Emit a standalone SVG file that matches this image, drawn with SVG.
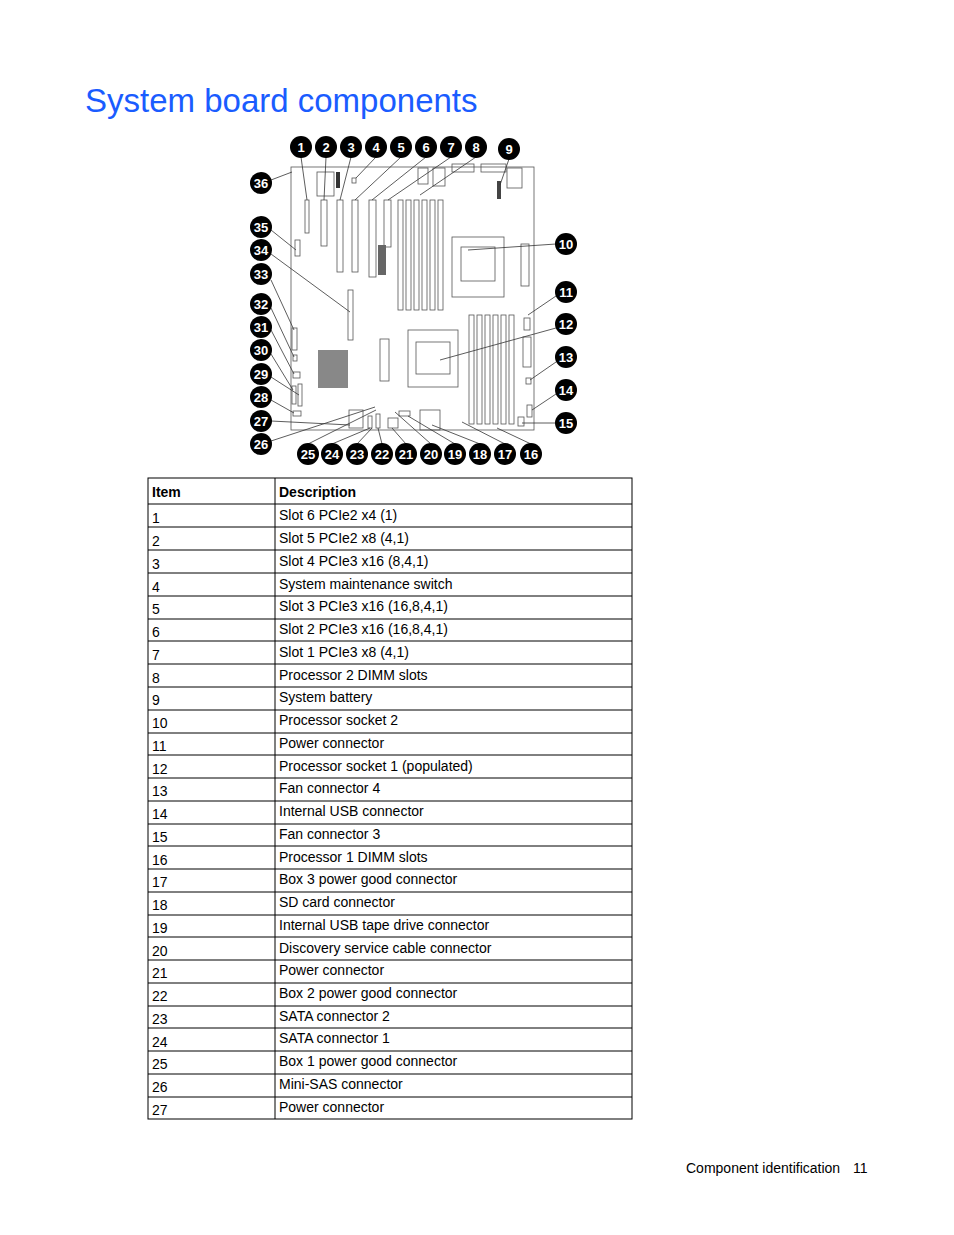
<svg xmlns="http://www.w3.org/2000/svg" width="954" height="1235" viewBox="0 0 954 1235">
<style>
.t{font-family:"Liberation Sans",Arial,sans-serif;font-size:14px;fill:#000}
.h{font-weight:bold}
.c circle{fill:#000;r:11px}
.c text{font-family:"Liberation Sans",Arial,sans-serif;font-size:13px;font-weight:bold;fill:#fff;text-anchor:middle}
.b{fill:none;stroke:#555;stroke-width:0.8}
.l{stroke:#333;stroke-width:0.8;fill:none}
.g line{stroke:#000;stroke-width:1}
</style>
<rect width="954" height="1235" fill="#fff"/>
<text x="85" y="112" style="font-family:'Liberation Sans',Arial,sans-serif;font-size:33px;fill:#1a5cff">System board components</text>
<g id="board">
<rect x="291" y="167" width="243" height="263" class="b"/>
<rect x="317" y="172" width="17" height="24" class="b"/>
<rect x="336" y="172" width="4" height="16" fill="#333"/>
<rect x="352" y="178" width="4" height="5" class="b"/>
<rect x="418" y="168" width="10" height="16" class="b"/><rect x="433" y="168" width="12" height="18" class="b"/>
<rect x="452" y="164" width="22" height="8" class="b"/><rect x="481" y="164" width="25" height="8" class="b"/>
<rect x="507" y="168" width="15" height="20" class="b"/>
<rect x="497" y="181" width="4" height="18" fill="#444"/>
<rect x="305" y="200" width="4" height="33" class="b"/>
<rect x="321" y="200" width="6" height="46" class="b"/>
<rect x="337" y="200" width="6" height="72" class="b"/>
<rect x="352" y="200" width="6" height="72" class="b"/>
<rect x="369" y="200" width="7" height="77" class="b"/>
<rect x="384" y="200" width="7" height="47" class="b"/>
<rect x="378" y="245" width="8" height="30" fill="#666"/>
<g class="b">
<rect x="398" y="200" width="5" height="110"/><rect x="406" y="200" width="5" height="110"/><rect x="414" y="200" width="5" height="110"/><rect x="422" y="200" width="5" height="110"/><rect x="430" y="200" width="5" height="110"/><rect x="438" y="200" width="5" height="110"/>
<rect x="469" y="315" width="5" height="109"/><rect x="477" y="315" width="5" height="109"/><rect x="485" y="315" width="5" height="109"/><rect x="493" y="315" width="5" height="109"/><rect x="501" y="315" width="5" height="109"/><rect x="509" y="315" width="5" height="109"/>
<rect x="452" y="237" width="52" height="60"/><rect x="461" y="247" width="34" height="34"/>
<rect x="408" y="330" width="50" height="57"/><rect x="416" y="342" width="34" height="32"/>
<rect x="521" y="244" width="8" height="42"/><rect x="523" y="337" width="8" height="30"/>
<rect x="380" y="339" width="9" height="42"/>
<rect x="348" y="290" width="5" height="50"/>
<rect x="295" y="240" width="5" height="16"/>
<rect x="292" y="328" width="5" height="22"/>
<rect x="293" y="355" width="4" height="6"/><rect x="293" y="372" width="7" height="6"/>
<rect x="292" y="386" width="4" height="18"/><rect x="298" y="384" width="4" height="22"/>
<rect x="293" y="411" width="8" height="5"/>
<rect x="349" y="410" width="14" height="18"/><rect x="368" y="416" width="4" height="12"/><rect x="376" y="414" width="4" height="14"/>
<rect x="388" y="418" width="10" height="10"/><rect x="399" y="411" width="11" height="5"/><rect x="420" y="410" width="20" height="20"/>
<rect x="524" y="318" width="6" height="12"/><rect x="526" y="378" width="5" height="6"/><rect x="527" y="405" width="5" height="12"/><rect x="518" y="417" width="6" height="9"/>
</g>
<rect x="318" y="350" width="30" height="38" fill="#888"/>
</g>
<g id="connectors" class="l">
<line x1="301" y1="157" x2="307" y2="200"/><line x1="326" y1="157" x2="324" y2="200"/><line x1="351" y1="157" x2="340" y2="200"/>
<line x1="376" y1="157" x2="356" y2="178"/><line x1="401" y1="157" x2="355" y2="200"/><line x1="426" y1="157" x2="372" y2="200"/>
<line x1="451" y1="157" x2="388" y2="200"/><line x1="476" y1="157" x2="420" y2="195"/><line x1="509" y1="159" x2="500" y2="185"/>
<line x1="271" y1="180" x2="292" y2="172"/><line x1="271" y1="230" x2="296" y2="250"/><line x1="271" y1="254" x2="350" y2="312"/>
<line x1="271" y1="280" x2="294" y2="330"/><line x1="271" y1="308" x2="294" y2="357"/><line x1="271" y1="330" x2="294" y2="374"/>
<line x1="271" y1="354" x2="293" y2="390"/><line x1="271" y1="377" x2="299" y2="395"/><line x1="271" y1="400" x2="294" y2="413"/>
<line x1="271" y1="421" x2="350" y2="425"/><line x1="271" y1="441" x2="375" y2="407"/>
<line x1="556" y1="244" x2="468" y2="250"/><line x1="556" y1="296" x2="528" y2="315"/><line x1="556" y1="328" x2="440" y2="360"/>
<line x1="556" y1="362" x2="530" y2="380"/><line x1="556" y1="394" x2="532" y2="410"/><line x1="556" y1="423" x2="522" y2="423"/>
<line x1="308" y1="444" x2="376" y2="410"/><line x1="332" y1="444" x2="370" y2="428"/><line x1="357" y1="444" x2="372" y2="428"/>
<line x1="382" y1="444" x2="378" y2="428"/><line x1="406" y1="444" x2="392" y2="428"/><line x1="431" y1="444" x2="395" y2="412"/>
<line x1="455" y1="444" x2="408" y2="416"/><line x1="480" y1="444" x2="432" y2="425"/><line x1="505" y1="444" x2="462" y2="422"/>
<line x1="531" y1="444" x2="497" y2="428"/>
</g>
<g class="c">
<g id="n1"><circle cx="301" cy="147" r="11"/><text x="301" y="152">1</text></g>
<g id="n2"><circle cx="326" cy="147" r="11"/><text x="326" y="152">2</text></g>
<g id="n3"><circle cx="351" cy="147" r="11"/><text x="351" y="152">3</text></g>
<g id="n4"><circle cx="376" cy="147" r="11"/><text x="376" y="152">4</text></g>
<g id="n5"><circle cx="401" cy="147" r="11"/><text x="401" y="152">5</text></g>
<g id="n6"><circle cx="426" cy="147" r="11"/><text x="426" y="152">6</text></g>
<g id="n7"><circle cx="451" cy="147" r="11"/><text x="451" y="152">7</text></g>
<g id="n8"><circle cx="476" cy="147" r="11"/><text x="476" y="152">8</text></g>
<g id="n9"><circle cx="509" cy="149" r="11"/><text x="509" y="154">9</text></g>
<g id="n10"><circle cx="566" cy="244" r="11"/><text x="566" y="249">10</text></g>
<g id="n11"><circle cx="566" cy="292" r="11"/><text x="566" y="297">11</text></g>
<g id="n12"><circle cx="566" cy="324" r="11"/><text x="566" y="329">12</text></g>
<g id="n13"><circle cx="566" cy="357" r="11"/><text x="566" y="362">13</text></g>
<g id="n14"><circle cx="566" cy="390" r="11"/><text x="566" y="395">14</text></g>
<g id="n15"><circle cx="566" cy="423" r="11"/><text x="566" y="428">15</text></g>
<g id="n16"><circle cx="531" cy="454" r="11"/><text x="531" y="459">16</text></g>
<g id="n17"><circle cx="505" cy="454" r="11"/><text x="505" y="459">17</text></g>
<g id="n18"><circle cx="480" cy="454" r="11"/><text x="480" y="459">18</text></g>
<g id="n19"><circle cx="455" cy="454" r="11"/><text x="455" y="459">19</text></g>
<g id="n20"><circle cx="431" cy="454" r="11"/><text x="431" y="459">20</text></g>
<g id="n21"><circle cx="406" cy="454" r="11"/><text x="406" y="459">21</text></g>
<g id="n22"><circle cx="382" cy="454" r="11"/><text x="382" y="459">22</text></g>
<g id="n23"><circle cx="357" cy="454" r="11"/><text x="357" y="459">23</text></g>
<g id="n24"><circle cx="332" cy="454" r="11"/><text x="332" y="459">24</text></g>
<g id="n25"><circle cx="308" cy="454" r="11"/><text x="308" y="459">25</text></g>
<g id="n26"><circle cx="261" cy="444" r="11"/><text x="261" y="449">26</text></g>
<g id="n27"><circle cx="261" cy="421" r="11"/><text x="261" y="426">27</text></g>
<g id="n28"><circle cx="261" cy="397" r="11"/><text x="261" y="402">28</text></g>
<g id="n29"><circle cx="261" cy="374" r="11"/><text x="261" y="379">29</text></g>
<g id="n30"><circle cx="261" cy="350" r="11"/><text x="261" y="355">30</text></g>
<g id="n31"><circle cx="261" cy="327" r="11"/><text x="261" y="332">31</text></g>
<g id="n32"><circle cx="261" cy="304" r="11"/><text x="261" y="309">32</text></g>
<g id="n33"><circle cx="261" cy="274" r="11"/><text x="261" y="279">33</text></g>
<g id="n34"><circle cx="261" cy="250" r="11"/><text x="261" y="255">34</text></g>
<g id="n35"><circle cx="261" cy="227" r="11"/><text x="261" y="232">35</text></g>
<g id="n36"><circle cx="261" cy="183" r="11"/><text x="261" y="188">36</text></g>
</g>
<g id="table">
<g class="g">
<rect x="148" y="478" width="484" height="641" fill="none" stroke="#000"/>
<line x1="275" y1="478" x2="275" y2="1119"/>
<line x1="148" y1="504" x2="632" y2="504"/><line x1="148" y1="527" x2="632" y2="527"/><line x1="148" y1="550" x2="632" y2="550"/><line x1="148" y1="573" x2="632" y2="573"/><line x1="148" y1="596" x2="632" y2="596"/><line x1="148" y1="619" x2="632" y2="619"/><line x1="148" y1="641" x2="632" y2="641"/><line x1="148" y1="664" x2="632" y2="664"/><line x1="148" y1="687" x2="632" y2="687"/><line x1="148" y1="710" x2="632" y2="710"/><line x1="148" y1="733" x2="632" y2="733"/><line x1="148" y1="755" x2="632" y2="755"/><line x1="148" y1="778" x2="632" y2="778"/><line x1="148" y1="801" x2="632" y2="801"/><line x1="148" y1="824" x2="632" y2="824"/><line x1="148" y1="846" x2="632" y2="846"/><line x1="148" y1="869" x2="632" y2="869"/><line x1="148" y1="892" x2="632" y2="892"/><line x1="148" y1="915" x2="632" y2="915"/><line x1="148" y1="937" x2="632" y2="937"/><line x1="148" y1="960" x2="632" y2="960"/><line x1="148" y1="983" x2="632" y2="983"/><line x1="148" y1="1006" x2="632" y2="1006"/><line x1="148" y1="1028" x2="632" y2="1028"/><line x1="148" y1="1051" x2="632" y2="1051"/><line x1="148" y1="1074" x2="632" y2="1074"/><line x1="148" y1="1097" x2="632" y2="1097"/>
</g>
<text class="t h" x="152" y="497">Item</text><text class="t h" x="279" y="497">Description</text>
<g class="t">
<text x="152" y="523">1</text><text x="279" y="520">Slot 6 PCIe2 x4 (1)</text>
<text x="152" y="546">2</text><text x="279" y="543">Slot 5 PCIe2 x8 (4,1)</text>
<text x="152" y="569">3</text><text x="279" y="566">Slot 4 PCIe3 x16 (8,4,1)</text>
<text x="152" y="592">4</text><text x="279" y="589">System maintenance switch</text>
<text x="152" y="614">5</text><text x="279" y="611">Slot 3 PCIe3 x16 (16,8,4,1)</text>
<text x="152" y="637">6</text><text x="279" y="634">Slot 2 PCIe3 x16 (16,8,4,1)</text>
<text x="152" y="660">7</text><text x="279" y="657">Slot 1 PCIe3 x8 (4,1)</text>
<text x="152" y="683">8</text><text x="279" y="680">Processor 2 DIMM slots</text>
<text x="152" y="705">9</text><text x="279" y="702">System battery</text>
<text x="152" y="728">10</text><text x="279" y="725">Processor socket 2</text>
<text x="152" y="751">11</text><text x="279" y="748">Power connector</text>
<text x="152" y="774">12</text><text x="279" y="771">Processor socket 1 (populated)</text>
<text x="152" y="796">13</text><text x="279" y="793">Fan connector 4</text>
<text x="152" y="819">14</text><text x="279" y="816">Internal USB connector</text>
<text x="152" y="842">15</text><text x="279" y="839">Fan connector 3</text>
<text x="152" y="865">16</text><text x="279" y="862">Processor 1 DIMM slots</text>
<text x="152" y="887">17</text><text x="279" y="884">Box 3 power good connector</text>
<text x="152" y="910">18</text><text x="279" y="907">SD card connector</text>
<text x="152" y="933">19</text><text x="279" y="930">Internal USB tape drive connector</text>
<text x="152" y="956">20</text><text x="279" y="953">Discovery service cable connector</text>
<text x="152" y="978">21</text><text x="279" y="975">Power connector</text>
<text x="152" y="1001">22</text><text x="279" y="998">Box 2 power good connector</text>
<text x="152" y="1024">23</text><text x="279" y="1021">SATA connector 2</text>
<text x="152" y="1047">24</text><text x="279" y="1043">SATA connector 1</text>
<text x="152" y="1069">25</text><text x="279" y="1066">Box 1 power good connector</text>
<text x="152" y="1092">26</text><text x="279" y="1089">Mini-SAS connector</text>
<text x="152" y="1115">27</text><text x="279" y="1112">Power connector</text>
</g>
</g>
<text class="t" x="686" y="1173">Component identification</text><text class="t" x="853" y="1173">11</text>
</svg>
